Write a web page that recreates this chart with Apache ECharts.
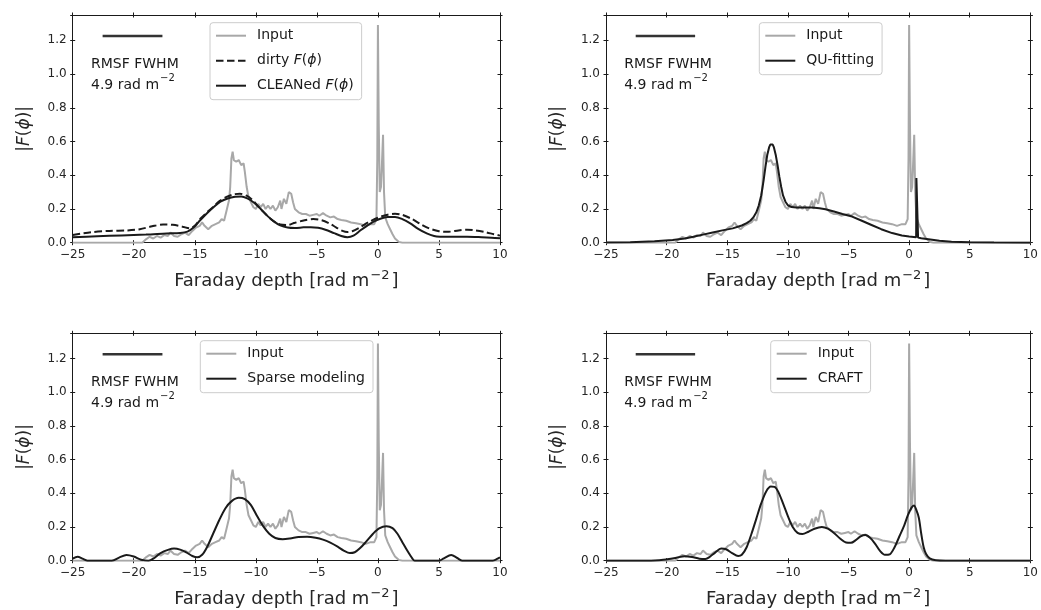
<!DOCTYPE html>
<html><head><meta charset="utf-8">
<script src="https://cdn.jsdelivr.net/npm/echarts@6/dist/echarts.min.js"></script>
<style>html,body{margin:0;padding:0;background:#fff}#c{width:1041px;height:610px}</style>
</head><body><div id="c"></div><script>
// ---------- data ----------
const xMin = -25, xMax = 10, xStep = 5;
const yMin = 0, yMax = 1.35, yStep = 0.2;
const rmsfFwhm = 4.9;           // rad m^-2
const rmsfStart = -22.55;       // start of the FWHM bar
const rmsfLevel = 1.225;

const inputData = [[-25,0],[-19.3,0],[-19.0,0.02],[-18.7,0.035],[-18.4,0.025],[-18.1,0.04],[-17.8,0.03],[-17.5,0.045],[-17.2,0.04],[-17.0,0.06],[-16.7,0.04],[-16.4,0.035],[-16.1,0.05],[-15.8,0.06],[-15.5,0.045],[-15.2,0.07],[-14.9,0.09],[-14.6,0.1],[-14.4,0.12],[-14.2,0.1],[-13.9,0.08],[-13.6,0.1],[-13.3,0.11],[-13.0,0.12],[-12.8,0.14],[-12.6,0.13],[-12.4,0.19],[-12.2,0.25],[-12.1,0.33],[-12.0,0.5],[-11.9,0.54],[-11.8,0.49],[-11.6,0.48],[-11.4,0.49],[-11.2,0.46],[-11.0,0.47],[-10.9,0.42],[-10.75,0.33],[-10.6,0.27],[-10.4,0.24],[-10.2,0.21],[-10.0,0.2],[-9.8,0.23],[-9.6,0.21],[-9.4,0.23],[-9.2,0.2],[-9.0,0.22],[-8.8,0.2],[-8.6,0.22],[-8.4,0.19],[-8.2,0.21],[-8.0,0.25],[-7.9,0.2],[-7.7,0.26],[-7.5,0.23],[-7.3,0.3],[-7.1,0.29],[-6.95,0.24],[-6.8,0.2],[-6.5,0.18],[-6.2,0.17],[-5.9,0.17],[-5.6,0.16],[-5.3,0.165],[-5.0,0.17],[-4.8,0.16],[-4.5,0.175],[-4.2,0.16],[-3.9,0.15],[-3.6,0.155],[-3.3,0.14],[-3.0,0.135],[-2.6,0.13],[-2.2,0.12],[-1.8,0.115],[-1.4,0.11],[-1.0,0.1],[-0.6,0.11],[-0.3,0.11],[-0.12,0.14],[-0.05,0.5],[0.0,1.29],[0.07,0.7],[0.15,0.3],[0.25,0.33],[0.32,0.45],[0.42,0.64],[0.5,0.3],[0.6,0.15],[0.8,0.11],[1.0,0.08],[1.2,0.05],[1.4,0.025],[1.7,0.005],[2.0,0],[10,0]];

const dirtyData = [[-25,0.046],[-23.5,0.062],[-22,0.07],[-20.5,0.073],[-19.5,0.08],[-18.5,0.097],[-17.6,0.108],[-16.8,0.106],[-16,0.095],[-15.4,0.085],[-15,0.1],[-14.5,0.145],[-14,0.18],[-13.5,0.212],[-13,0.245],[-12.4,0.272],[-11.8,0.287],[-11.3,0.29],[-10.8,0.28],[-10.3,0.255],[-9.8,0.215],[-9.2,0.17],[-8.6,0.13],[-8.0,0.108],[-7.4,0.105],[-6.8,0.118],[-6.0,0.133],[-5.3,0.14],[-4.6,0.133],[-4.0,0.115],[-3.4,0.09],[-2.9,0.07],[-2.5,0.063],[-2.1,0.068],[-1.5,0.09],[-0.8,0.12],[0,0.148],[0.8,0.166],[1.4,0.172],[2.0,0.165],[2.8,0.14],[3.5,0.11],[4.2,0.085],[5.0,0.068],[5.8,0.065],[6.6,0.073],[7.3,0.077],[8.0,0.073],[8.8,0.063],[9.5,0.05],[10,0.042]];

const cleanData = [[-25,0.032],[-23,0.038],[-21,0.043],[-19,0.048],[-17.3,0.055],[-16.2,0.058],[-15.6,0.066],[-15.1,0.09],[-14.6,0.13],[-14.0,0.175],[-13.4,0.215],[-12.9,0.243],[-12.3,0.262],[-11.7,0.272],[-11.2,0.274],[-10.7,0.263],[-10.2,0.24],[-9.6,0.2],[-9.1,0.162],[-8.5,0.125],[-8.0,0.103],[-7.4,0.09],[-6.8,0.087],[-6.1,0.091],[-5.5,0.092],[-4.9,0.088],[-4.3,0.077],[-3.6,0.057],[-3.0,0.04],[-2.5,0.033],[-2.0,0.042],[-1.45,0.072],[-0.9,0.1],[-0.35,0.125],[0.2,0.142],[0.8,0.152],[1.4,0.153],[2.0,0.14],[2.65,0.115],[3.3,0.082],[4.0,0.055],[4.6,0.04],[5.1,0.036],[6,0.035],[7.3,0.036],[8.5,0.033],[9.3,0.03],[10,0.026]];

const quData = [[-25,0.001],[-23,0.003],[-21,0.008],[-19.5,0.016],[-18.5,0.025],[-17.8,0.035],[-17,0.048],[-16.2,0.061],[-15.4,0.073],[-14.55,0.085],[-13.8,0.102],[-13.4,0.116],[-13.1,0.13],[-12.85,0.15],[-12.6,0.18],[-12.4,0.22],[-12.2,0.28],[-12.0,0.37],[-11.85,0.45],[-11.7,0.52],[-11.55,0.565],[-11.45,0.582],[-11.35,0.588],[-11.25,0.582],[-11.15,0.565],[-11.0,0.52],[-10.85,0.46],[-10.7,0.39],[-10.55,0.33],[-10.4,0.28],[-10.2,0.243],[-10.0,0.222],[-9.7,0.211],[-9.3,0.208],[-8.8,0.208],[-8.0,0.208],[-7.4,0.204],[-6.9,0.198],[-6.2,0.185],[-5.5,0.17],[-4.7,0.155],[-3.9,0.13],[-3.1,0.105],[-2.3,0.08],[-1.4,0.057],[-0.6,0.043],[0.0,0.037],[0.58,0.032],[0.6,0.383],[0.72,0.383],[0.74,0.03],[1.0,0.026],[1.6,0.02],[2.5,0.011],[3.5,0.006],[5,0.003],[7,0.001],[10,0]];

const sparseData = [[-25,0.012],[-24.6,0.024],[-24.2,0.012],[-23.8,0.0],[-21.8,0.0],[-21.2,0.018],[-20.6,0.034],[-20.0,0.025],[-19.4,0.006],[-18.8,0.0],[-18.4,0.012],[-17.8,0.045],[-17.2,0.064],[-16.7,0.072],[-16.2,0.066],[-15.7,0.05],[-15.2,0.028],[-14.8,0.02],[-14.4,0.035],[-14.0,0.08],[-13.5,0.16],[-13.0,0.24],[-12.5,0.31],[-12.0,0.352],[-11.4,0.373],[-10.9,0.365],[-10.4,0.33],[-9.9,0.265],[-9.4,0.205],[-8.9,0.16],[-8.4,0.135],[-7.8,0.128],[-7.2,0.132],[-6.5,0.14],[-5.8,0.142],[-5.1,0.136],[-4.5,0.125],[-3.9,0.107],[-3.3,0.083],[-2.8,0.06],[-2.3,0.045],[-1.9,0.05],[-1.5,0.072],[-1.0,0.11],[-0.4,0.16],[0.1,0.192],[0.7,0.205],[1.2,0.193],[1.6,0.16],[2.0,0.11],[2.4,0.06],[2.8,0.015],[3.0,0],[5.0,0],[5.4,0.014],[6.0,0.034],[6.5,0.016],[6.9,0.0],[9.4,0.0],[9.8,0.012],[10,0.02]];

const craftData = [[-25,0],[-22,0],[-20.6,0.003],[-19.8,0.01],[-19.2,0.018],[-18.5,0.027],[-17.9,0.022],[-17.3,0.012],[-16.8,0.01],[-16.4,0.025],[-16.0,0.048],[-15.5,0.072],[-15.1,0.068],[-14.6,0.045],[-14.1,0.028],[-13.8,0.035],[-13.4,0.08],[-13.0,0.16],[-12.6,0.25],[-12.2,0.34],[-11.8,0.41],[-11.4,0.44],[-11.1,0.438],[-10.8,0.41],[-10.4,0.34],[-10.0,0.265],[-9.6,0.2],[-9.2,0.165],[-8.8,0.158],[-8.3,0.172],[-7.8,0.19],[-7.2,0.2],[-6.7,0.19],[-6.2,0.165],[-5.7,0.132],[-5.2,0.108],[-4.8,0.106],[-4.4,0.122],[-4.0,0.145],[-3.6,0.152],[-3.2,0.135],[-2.8,0.1],[-2.4,0.058],[-2.0,0.035],[-1.6,0.038],[-1.2,0.08],[-0.8,0.145],[-0.4,0.21],[-0.1,0.27],[0.2,0.315],[0.4,0.328],[0.6,0.3],[0.8,0.255],[1.0,0.16],[1.2,0.08],[1.4,0.04],[1.7,0.014],[2.2,0.003],[3,0],[10,0]];

// ---------- styling / layout ----------
const FONT = 'DejaVu Sans';
const INK = '#1a1a1a';
const TXT = '#262626';
const GRAY = '#a8a8a8';
const panels = [
  {grid:{left:72.7, top:15, width:427.3, height:227.7}, legendPos:{left:210, top:22.7},
   models:[{name:'dirty F(\u03D5)', data:dirtyData, dashed:true, smooth:0.3},
           {name:'CLEANed F(\u03D5)', data:cleanData, smooth:0.3}]},
  {grid:{left:606, top:15, width:426.7, height:227.7}, legendPos:{left:759.3, top:22.7},
   models:[{name:'QU-fitting', data:quData, smooth:false}]},
  {grid:{left:72.7, top:333.3, width:427.3, height:227.4}, legendPos:{left:200.3, top:340.7},
   models:[{name:'Sparse modeling', data:sparseData, smooth:0.3}]},
  {grid:{left:606, top:333.3, width:426.7, height:227.4}, legendPos:{left:770.7, top:340.7},
   models:[{name:'CRAFT', data:craftData, smooth:0.3}]}
];

const rich = {
  it:{fontStyle:'italic', fontFamily:FONT, fontSize:14, color:INK},
  sp:{width:6}
};
function legendFmt(name){
  const m = name.match(/^(.*)F\(\u03D5\)$/);
  if (m) return '{sp|}' + m[1] + '{it|F}(' + '{it|\u03D5})';
  return '{sp|}' + name;
}
function xLabel(v){ return v < 0 ? '\u2212' + Math.abs(v) : String(v); }
function yLabel(v){
  const k = v / yStep;
  return Math.abs(k - Math.round(k)) < 1e-6 ? v.toFixed(1) : '';
}
const axisLineStyle = {color:INK, width:1};
const tickLen = 2.5;

const grids = [], xAxes = [], yAxes = [], legends = [], series = [];
panels.forEach((p, gi) => {
  grids.push(Object.assign({show:false}, p.grid));
  [['bottom',false,true],['bottom',true,false],['top',false,false],['top',true,false]].forEach(([pos,inside,main]) => {
    xAxes.push({
      type:'value', gridIndex:gi, position:pos, min:xMin, max:xMax, interval:xStep,
      axisLine:{show:true, onZero:false, lineStyle:axisLineStyle},
      axisTick:{show:true, inside:inside, length:tickLen, lineStyle:axisLineStyle},
      axisLabel:{show:main, formatter:xLabel, fontFamily:FONT, fontSize:12, color:TXT, margin:6},
      splitLine:{show:false},
      name: main ? '{t|Faraday depth [rad m}{s|\u22122}{t|]}' : '', nameLocation:'middle', nameGap:26,
      nameTextStyle:{fontFamily:FONT, fontSize:18, color:TXT,
        rich:{t:{fontFamily:FONT, fontSize:18, color:TXT, lineHeight:22, verticalAlign:'bottom'},
              s:{fontFamily:FONT, fontSize:13, color:TXT, lineHeight:12, verticalAlign:'top', padding:[0,2,0,1]}}}
    });
  });
  [['left',false,true],['left',true,false],['right',false,false],['right',true,false]].forEach(([pos,inside,main]) => {
    yAxes.push({
      type:'value', gridIndex:gi, position:pos, min:yMin, max:yMax, interval:yStep,
      axisLine:{show:true, onZero:false, lineStyle:axisLineStyle},
      axisTick:{show:true, inside:inside, length:tickLen, lineStyle:axisLineStyle},
      axisLabel:{show:main, formatter:yLabel, fontFamily:FONT, fontSize:12, color:TXT, margin:6},
      splitLine:{show:false},
      name: main ? '|{it|F}({it|\u03D5})|' : '', nameLocation:'middle', nameGap:40,
      nameTextStyle:{fontFamily:FONT, fontSize:17, color:TXT,
        rich:{it:{fontStyle:'italic', fontFamily:FONT, fontSize:17, color:TXT}}}
    });
  });
  const xi = gi*4, yi = gi*4;
  series.push({
    type:'line', name:'Input', xAxisIndex:xi, yAxisIndex:yi, data:inputData,
    symbol:'none', showSymbol:false, smooth:false, z:2,
    lineStyle:{color:GRAY, width:2}, itemStyle:{color:GRAY}
  });
  p.models.forEach((m, k) => {
    series.push({
      type:'line', name:m.name, xAxisIndex:xi, yAxisIndex:yi, data:m.data,
      symbol:'none', showSymbol:false, smooth:m.smooth, z:3+k,
      lineStyle:{color:INK, width:2, type: m.dashed ? [7.5,3.5] : 'solid'},
      itemStyle:{color:INK}
    });
  });
  // RMSF FWHM bar and its annotation
  series.push({
    type:'line', name:'rmsf'+gi, xAxisIndex:xi, yAxisIndex:yi,
    data:[[rmsfStart, rmsfLevel],[rmsfStart + rmsfFwhm, rmsfLevel]],
    symbol:'none', lineStyle:{color:'#333', width:2.5}, z:5, silent:true
  });
  series.push({
    type:'scatter', name:'rmsfText'+gi, xAxisIndex:xi, yAxisIndex:yi, symbolSize:0.001, silent:true,
    itemStyle:{opacity:1},
    data:[{value:[-23.5, 1.075], name:'RMSF FWHM'},
          {value:[-23.5, 0.95], name: rmsfFwhm.toFixed(1)}],
    label:{show:true, position:'right', distance:0, opacity:1,
      formatter:(p) => p.dataIndex === 0 ? '{t|' + p.name + '}' : '{t|' + p.name + ' rad m}{s|\u22122}',
      rich:{t:{fontFamily:FONT, fontSize:14, color:INK, lineHeight:19, verticalAlign:'bottom'},
            s:{fontFamily:FONT, fontSize:10, color:INK, lineHeight:10, verticalAlign:'top', padding:[0,0,0,1]}},
      align:'left', verticalAlign:'middle'}
  });
  legends.push({
    orient:'vertical', left:p.legendPos.left, top:p.legendPos.top,
    data:['Input'].concat(p.models.map(m => m.name)),
    itemWidth:30, itemHeight:14, itemGap:11, padding:[6,8,7,5],
    borderColor:'#cccccc', borderWidth:1, borderRadius:3, backgroundColor:'rgba(255,255,255,0.8)',
    selectedMode:false, formatter:legendFmt,
    itemStyle:{color:'rgba(0,0,0,0)', borderWidth:0, opacity:0},
    textStyle:{fontFamily:FONT, fontSize:14, color:INK, rich:rich}
  });
});

const chart = echarts.init(document.getElementById('c'), null, {renderer:'canvas'});
chart.setOption({
  animation:false, backgroundColor:'#ffffff',
  grid:grids, xAxis:xAxes, yAxis:yAxes, legend:legends, series:series
});
</script></body></html>
